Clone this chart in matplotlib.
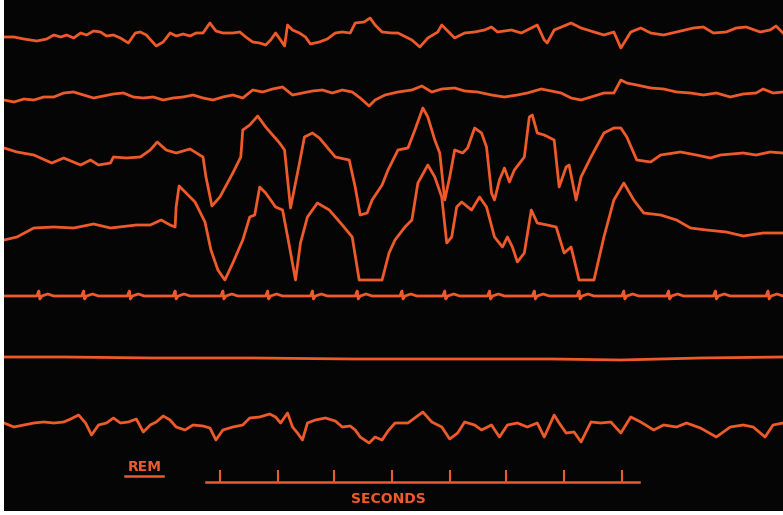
import numpy as np
import matplotlib
matplotlib.use('Agg')
import matplotlib.pyplot as plt

# 수면 기록 (REM) - 그림에서 읽은 좌표 (x: 가로 위치, y: 세로 위치, 아래로 증가)

# 1번 채널 (EEG 위)
eeg1_x = [0, 10, 20, 33, 43, 50, 57, 63, 70, 77, 83, 90, 97, 103, 110, 117, 125, 132, 137, 143,
          153, 160, 167, 173, 180, 187, 193, 200, 207, 213, 220, 230, 237, 243, 250, 257, 263, 268,
          273, 278, 282, 285, 290, 297, 303, 308, 317, 325, 333, 340, 348, 353, 362, 368, 373, 380,
          390, 396, 410, 418, 426, 436, 440, 446, 453, 463, 473, 483, 490, 496, 510, 520, 530, 536,
          543, 546, 553, 570, 580, 593, 603, 613, 620, 630, 640, 650, 663, 676, 693, 703, 713, 726,
          736, 746, 760, 770, 776, 783]
eeg1_y = [37, 37, 39, 41, 39, 35, 37, 35, 38, 33, 35, 31, 32, 36, 35, 38, 43, 33, 32, 35,
          46, 42, 33, 36, 34, 36, 33, 33, 23, 31, 33, 33, 32, 37, 42, 43, 45, 40,
          33, 40, 46, 25, 30, 33, 37, 44, 42, 39, 33, 32, 33, 23, 22, 18, 25, 32,
          33, 33, 40, 47, 38, 32, 25, 31, 38, 33, 32, 30, 27, 32, 30, 33, 28, 25,
          40, 43, 30, 23, 28, 32, 35, 32, 48, 32, 28, 33, 35, 32, 28, 27, 33, 32,
          28, 27, 32, 30, 26, 33]

# 2번 채널 (EEG 아래)
eeg2_x = [0, 10, 20, 30, 40, 50, 60, 70, 80, 90, 100, 110, 120, 130, 140, 150, 160, 170, 180, 190,
          200, 210, 220, 230, 240, 250, 260, 270, 280, 290, 300, 310, 320, 330, 340, 350, 358, 367,
          373, 383, 396, 410, 420, 430, 440, 453, 463, 476, 490, 503, 516, 526, 540, 550, 560, 570,
          580, 590, 603, 613, 620, 626, 636, 650, 663, 676, 690, 703, 716, 730, 743, 756, 763, 773, 783]
eeg2_y = [100, 102, 99, 100, 97, 97, 93, 92, 95, 98, 96, 94, 93, 97, 98, 97, 100, 98, 97, 95,
          98, 100, 97, 95, 98, 90, 92, 89, 87, 95, 93, 91, 90, 93, 90, 92, 98, 106,
          100, 95, 92, 90, 86, 92, 89, 88, 91, 92, 95, 97, 95, 93, 89, 91, 93, 98,
          100, 97, 93, 93, 80, 83, 85, 88, 89, 92, 93, 95, 93, 97, 94, 93, 89, 93, 92]

# 3번 채널 (안구 운동 위)
eog1_x = [0, 13, 30, 48, 60, 77, 87, 95, 107, 110, 123, 137, 147, 154, 163, 173, 180, 187, 200, 203,
          209, 217, 230, 238, 240, 247, 255, 263, 277, 282, 288, 293, 297, 302, 310, 317, 333, 347,
          353, 358, 365, 370, 380, 386, 396, 406, 413, 421, 426, 433, 438, 443, 448, 453, 461, 466,
          473, 480, 485, 490, 493, 498, 503, 508, 513, 523, 528, 531, 536, 543, 553, 558, 565, 568,
          575, 580, 590, 603, 613, 620, 626, 636, 650, 660, 680, 696, 710, 720, 743, 756, 770, 783]
eog1_y = [148, 152, 155, 163, 158, 165, 160, 165, 163, 157, 158, 157, 150, 142, 150, 153, 151, 149, 157, 177,
          206, 197, 173, 157, 130, 125, 116, 127, 143, 150, 208, 183, 163, 137, 133, 138, 157, 160,
          187, 215, 213, 200, 185, 170, 150, 148, 130, 108, 117, 140, 153, 200, 177, 150, 153, 148,
          128, 133, 147, 193, 200, 180, 168, 182, 170, 157, 117, 115, 133, 135, 140, 187, 167, 165,
          200, 177, 157, 133, 128, 128, 137, 160, 162, 155, 152, 155, 158, 155, 153, 155, 152, 153]

# 4번 채널 (안구 운동 아래)
eog2_x = [0, 13, 30, 50, 70, 90, 107, 133, 147, 158, 167, 172, 173, 176, 183, 192, 202, 208, 215, 222,
          230, 240, 247, 252, 257, 263, 273, 280, 287, 293, 298, 305, 315, 327, 340, 350, 357, 380,
          387, 393, 403, 410, 416, 426, 433, 440, 445, 450, 455, 460, 470, 478, 485, 493, 501, 506,
          511, 516, 523, 530, 536, 546, 555, 563, 570, 578, 593, 603, 613, 623, 633, 643, 660, 676,
          690, 706, 726, 743, 763, 783]
eog2_y = [240, 237, 228, 227, 228, 224, 228, 225, 225, 220, 225, 227, 207, 186, 193, 202, 222, 250, 270, 280,
          263, 240, 217, 215, 187, 193, 207, 210, 247, 280, 243, 217, 203, 210, 225, 237, 280, 280,
          253, 240, 227, 220, 183, 165, 177, 197, 243, 237, 207, 202, 210, 197, 207, 237, 247, 237,
          247, 262, 253, 210, 223, 225, 227, 253, 247, 280, 280, 237, 200, 183, 200, 213, 215, 220,
          228, 230, 232, 236, 233, 233]

# 5번 채널 (심전도) - 박동 위치
ecg_beats = [35, 80, 126, 172, 220, 265, 310, 355, 400, 443, 488, 533, 578, 623, 668, 715, 768]
ecg_base = 296

# 6번 채널 (거의 평탄)
flat_x = [0, 60, 150, 250, 350, 450, 550, 620, 700, 783]
flat_y = [357, 357, 358, 358, 359, 359, 359, 360, 358, 357]

# 7번 채널 (근전도)
emg_x = [0, 10, 20, 30, 40, 50, 60, 67, 75, 82, 88, 95, 103, 110, 117, 125, 133, 140, 147, 153,
         160, 167, 173, 182, 190, 200, 207, 213, 220, 230, 240, 247, 257, 267, 273, 278, 285, 290,
         295, 300, 305, 313, 323, 333, 340, 348, 353, 358, 367, 373, 380, 386, 393, 406, 421, 430,
         440, 448, 456, 463, 473, 480, 490, 498, 506, 516, 526, 536, 543, 553, 558, 565, 573, 580,
         590, 600, 610, 620, 630, 640, 653, 663, 676, 686, 700, 716, 730, 743, 753, 765, 773, 783]
emg_y = [423, 427, 425, 423, 422, 423, 422, 419, 415, 423, 435, 425, 423, 418, 423, 422, 419, 432, 425, 422,
         416, 420, 427, 430, 425, 426, 428, 440, 430, 427, 425, 418, 417, 414, 417, 423, 413, 427,
         433, 440, 423, 420, 418, 421, 427, 426, 430, 437, 443, 437, 440, 431, 423, 423, 412, 422,
         427, 439, 433, 422, 425, 430, 425, 437, 425, 423, 427, 423, 437, 415, 423, 433, 432, 442,
         422, 423, 422, 433, 417, 422, 430, 425, 427, 423, 428, 437, 427, 425, 427, 437, 425, 423]

# 시간 눈금 (초)
sec_ticks = [217, 275, 332, 390, 448, 505, 563, 621]

color = '#ee5a2a'

fig = plt.figure(figsize=(7.83, 5.15), dpi=100, facecolor='white')
ax = fig.add_axes([4 / 783, 4 / 515, 779 / 783, 511 / 515])
ax.set_facecolor('#050505')
ax.set_xlim(0, 783)
ax.set_ylim(511, 0)
ax.set_xticks([])
ax.set_yticks([])
for s in ax.spines.values():
    s.set_visible(False)

for xs, ys in [(eeg1_x, eeg1_y), (eeg2_x, eeg2_y), (eog1_x, eog1_y),
               (eog2_x, eog2_y), (flat_x, flat_y), (emg_x, emg_y)]:
    ax.plot(xs, ys, color=color, lw=2.0, solid_joinstyle='round')

# 심전도: 기준선 + 박동마다 짧은 스파이크
ecg_x = [0]
ecg_y = [ecg_base]
for b in ecg_beats:
    ecg_x += [b - 2, b, b + 1, b + 3, b + 9, b + 15]
    ecg_y += [ecg_base, ecg_base - 5, ecg_base + 3, ecg_base, ecg_base - 2, ecg_base]
ecg_x.append(783)
ecg_y.append(ecg_base)
ax.plot(ecg_x, ecg_y, color=color, lw=2.0)

# REM 라벨과 초 단위 스케일
ax.text(141, 467, 'REM', color=color, fontsize=10, fontweight='bold',
        ha='center', va='center')
ax.plot([122, 160], [476, 476], color=color, lw=1.8)
ax.plot([203, 638], [482, 482], color=color, lw=1.8)
ax.vlines(sec_ticks, 470, 482, color=color, lw=1.5)
ax.text(386, 499, 'SECONDS', color=color, fontsize=10, fontweight='bold',
        ha='center', va='center')

fig.savefig('out.png', dpi=100, facecolor=fig.get_facecolor())
